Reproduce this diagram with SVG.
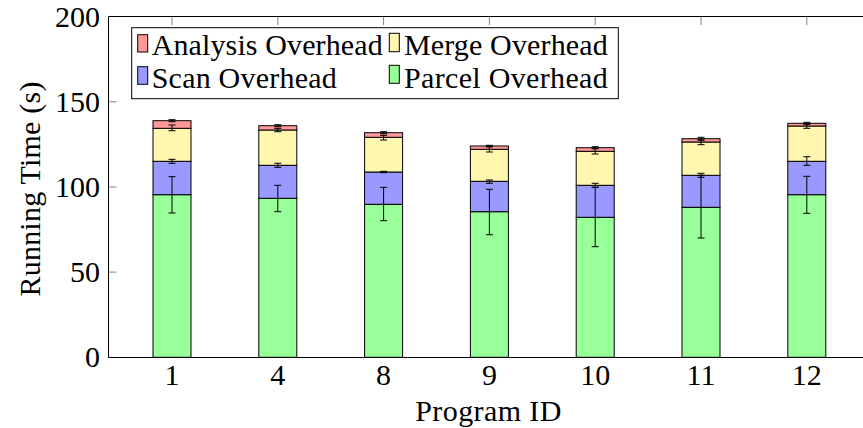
<svg xmlns="http://www.w3.org/2000/svg" width="863" height="428" viewBox="0 0 863 428" font-family="'Liberation Serif', 'DejaVu Serif', serif">
<style>
text{font-family:'Liberation Serif','DejaVu Serif',serif;font-size:30px;fill:#000}
.seg{stroke:#000;stroke-width:1}
.g{fill:#99ff99}.b{fill:#9999ff}.y{fill:#fff6b0}.r{fill:#ff9999}
.err{stroke:#000;stroke-width:1;fill:none}
.tick{stroke:#808080;stroke-width:1}
.axis{stroke:#000;stroke-width:1;fill:none}
</style>
<rect width="863" height="428" fill="#fff"/>
<g id="ticks">
<path class="tick" d="M108.5 272.1h8M108.5 187h8M108.5 101.8h8M172 17v8M277.8 17v8M383.6 17v8M489.4 17v8M595.2 17v8M701 17v8M806.8 17v8"/>
</g>
<g id="bars">
<g id="bar1"><rect class="seg g" x="153" y="194.7" width="38" height="162.6"/><rect class="seg b" x="153" y="161.3" width="38" height="33.4"/><rect class="seg y" x="153" y="128.3" width="38" height="33"/><rect class="seg r" x="153" y="120.7" width="38" height="7.6"/></g>
<g id="bar4"><rect class="seg g" x="258.8" y="198.3" width="38" height="159"/><rect class="seg b" x="258.8" y="165.3" width="38" height="33"/><rect class="seg y" x="258.8" y="130" width="38" height="35.3"/><rect class="seg r" x="258.8" y="125.7" width="38" height="4.3"/></g>
<g id="bar8"><rect class="seg g" x="364.6" y="204.3" width="38" height="153"/><rect class="seg b" x="364.6" y="172" width="38" height="32.3"/><rect class="seg y" x="364.6" y="137.3" width="38" height="34.7"/><rect class="seg r" x="364.6" y="132.7" width="38" height="4.6"/></g>
<g id="bar9"><rect class="seg g" x="470.4" y="211.7" width="38" height="145.6"/><rect class="seg b" x="470.4" y="181.3" width="38" height="30.4"/><rect class="seg y" x="470.4" y="149.3" width="38" height="32"/><rect class="seg r" x="470.4" y="146" width="38" height="3.3"/></g>
<g id="bar10"><rect class="seg g" x="576.2" y="217.3" width="38" height="140"/><rect class="seg b" x="576.2" y="185.3" width="38" height="32"/><rect class="seg y" x="576.2" y="151.3" width="38" height="34"/><rect class="seg r" x="576.2" y="147.7" width="38" height="3.6"/></g>
<g id="bar11"><rect class="seg g" x="682" y="207.3" width="38" height="150"/><rect class="seg b" x="682" y="175.3" width="38" height="32"/><rect class="seg y" x="682" y="142" width="38" height="33.3"/><rect class="seg r" x="682" y="138.7" width="38" height="3.3"/></g>
<g id="bar12"><rect class="seg g" x="787.8" y="194.7" width="38" height="162.6"/><rect class="seg b" x="787.8" y="161.3" width="38" height="33.4"/><rect class="seg y" x="787.8" y="126" width="38" height="35.3"/><rect class="seg r" x="787.8" y="123.3" width="38" height="2.7"/></g>
</g>
<g id="errorbars">
<path class="err" d="M172 176.7V213M168.5 176.7h7M168.5 213h7 M172 159.3V163.3M168.5 159.3h7M168.5 163.3h7 M172 125V130.7M168.5 125h7M168.5 130.7h7 M172 119.7V121.7M168.5 119.7h7M168.5 121.7h7"/>
<path class="err" d="M277.8 185.3V211.7M274.3 185.3h7M274.3 211.7h7 M277.8 163.3V167.3M274.3 163.3h7M274.3 167.3h7 M277.8 128.3V131.7M274.3 128.3h7M274.3 131.7h7 M277.8 124.7V126.7M274.3 124.7h7M274.3 126.7h7"/>
<path class="err" d="M383.6 187.3V220.7M380.1 187.3h7M380.1 220.7h7 M383.6 171.3V172.7M380.1 171.3h7M380.1 172.7h7 M383.6 135.3V140M380.1 135.3h7M380.1 140h7 M383.6 131.7V133.7M380.1 131.7h7M380.1 133.7h7"/>
<path class="err" d="M489.4 189.3V234.7M485.9 189.3h7M485.9 234.7h7 M489.4 180V183.3M485.9 180h7M485.9 183.3h7 M489.4 146V152M485.9 146h7M485.9 152h7 M489.4 145.3V147M485.9 145.3h7M485.9 147h7"/>
<path class="err" d="M595.2 187.3V246.7M591.7 187.3h7M591.7 246.7h7 M595.2 183.3V187.3M591.7 183.3h7M591.7 187.3h7 M595.2 148.7V154M591.7 148.7h7M591.7 154h7 M595.2 146.7V148.7M591.7 146.7h7M591.7 148.7h7"/>
<path class="err" d="M701 175.3V238M697.5 175.3h7M697.5 238h7 M701 173.3V177.3M697.5 173.3h7M697.5 177.3h7 M701 140V144.7M697.5 140h7M697.5 144.7h7 M701 137.3V140M697.5 137.3h7M697.5 140h7"/>
<path class="err" d="M806.8 176.3V213.3M803.3 176.3h7M803.3 213.3h7 M806.8 156.7V165.3M803.3 156.7h7M803.3 165.3h7 M806.8 123.7V128.3M803.3 123.7h7M803.3 128.3h7 M806.8 122.3V124.3M803.3 122.3h7M803.3 124.3h7"/>
</g>
<g id="axes">
<path class="axis" d="M863 357.5H108.5V16.5H863"/>
</g>
<g id="yticklabels" text-anchor="end">
<text x="100" y="367.3">0</text>
<text x="100" y="282.1">50</text>
<text x="100" y="197">100</text>
<text x="100" y="111.8">150</text>
<text x="100" y="26.6">200</text>
</g>
<g id="xticklabels" text-anchor="middle">
<text x="172" y="385">1</text>
<text x="277.8" y="385">4</text>
<text x="383.6" y="385">8</text>
<text x="489.4" y="385">9</text>
<text x="595.2" y="385">10</text>
<text x="701" y="385">11</text>
<text x="806.8" y="385">12</text>
</g>
<g id="axislabels">
<text x="488.3" y="421" text-anchor="middle" textLength="146" lengthAdjust="spacing">Program ID</text>
<text transform="translate(40 189) rotate(-90)" text-anchor="middle" textLength="215" lengthAdjust="spacing">Running Time (s)</text>
</g>
<g id="legend">
<rect x="131.7" y="27.7" width="486.6" height="71" fill="#fff" stroke="#000" stroke-width="1"/>
<rect class="seg r" x="137.7" y="34.7" width="10" height="17.3"/>
<text x="151.7" y="55" textLength="231" lengthAdjust="spacing">Analysis Overhead</text>
<rect class="seg b" x="137.7" y="66.7" width="10" height="17.6"/>
<text x="151.7" y="88" textLength="185" lengthAdjust="spacing">Scan Overhead</text>
<rect class="seg y" x="389.3" y="33.3" width="10" height="18.4"/>
<text x="404" y="55" textLength="203.7" lengthAdjust="spacing">Merge Overhead</text>
<rect class="seg g" x="389.3" y="65.3" width="10" height="18"/>
<text x="404" y="88" textLength="203.7" lengthAdjust="spacing">Parcel Overhead</text>
</g>
</svg>
